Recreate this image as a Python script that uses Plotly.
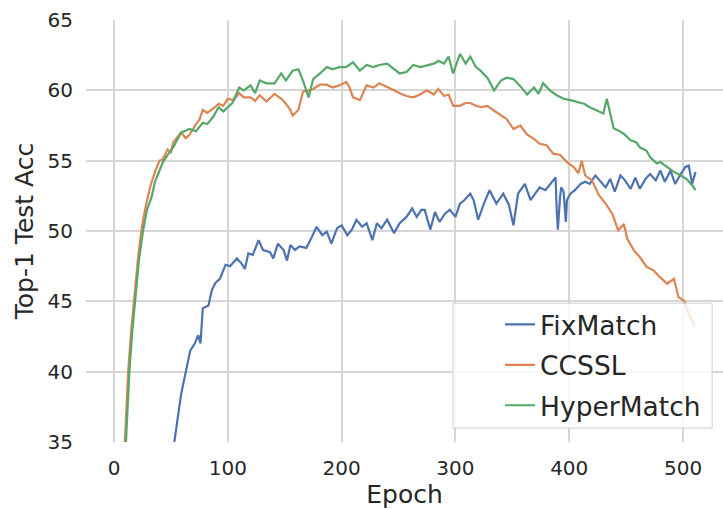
import plotly.graph_objects as go

# FixMatch
fix_epoch = [53, 54, 56, 59, 61, 62, 67, 71, 74, 76, 78, 83, 86, 89, 93, 98, 102, 108, 112, 115, 118, 122, 127, 131,
             137, 140, 144, 149, 152, 155, 159, 163, 169, 174, 178, 183, 187, 191, 196, 200, 205, 209, 213, 218,
             222, 227, 231, 235, 240, 246, 251, 257, 262, 266, 270, 273, 275, 278, 282, 286, 291, 295, 300, 304,
             308, 313, 316, 320, 325, 330, 336, 342, 347, 351, 355, 361, 366, 370, 374, 379, 385, 388, 389, 390,
             392, 393, 395, 397, 398, 401, 405, 410, 414, 418, 423, 427, 432, 436, 440, 445, 449, 454, 458, 462,
             467, 471, 476, 480, 484, 489, 493, 498, 502, 505, 508, 511]
fix_acc = [35.0, 35.6, 36.9, 38.4, 39.2, 39.6, 41.5, 42.0, 42.6, 42.0, 44.5, 44.7, 45.8, 46.3, 46.6, 47.6, 47.5, 48.05,
           47.7, 47.3, 48.4, 48.3, 49.35, 48.65, 48.5, 48.05, 49.1, 48.65, 47.9, 49.0, 48.65, 48.9, 48.8, 49.6, 50.3,
           49.7, 49.95, 49.1, 50.2, 50.4, 49.7, 50.1, 50.8, 50.3, 50.55, 49.35, 50.55, 50.2, 50.8, 49.85, 50.55, 51.0,
           51.6, 51.0, 51.5, 51.5, 50.9, 50.1, 51.35, 50.65, 51.25, 51.5, 51.0, 51.95, 52.2, 52.65, 52.2, 50.8, 51.95,
           52.9, 51.95, 52.65, 51.85, 50.4, 52.65, 53.35, 52.2, 52.65, 53.1, 52.9, 53.5, 53.8, 51.5, 50.1, 52.5, 53.1,
           52.8, 50.65, 52.2, 52.65, 52.9, 53.35, 53.5, 53.35, 53.95, 53.6, 53.1, 53.7, 52.8, 53.95, 53.6, 53.0, 53.8,
           53.0, 53.7, 54.05, 53.6, 54.3, 53.5, 54.3, 53.35, 54.05, 54.55, 54.65, 53.35, 54.2]

# CCSSL
cc_epoch = [9.5, 11, 12.5, 15, 17.5, 21, 24.5, 28, 32, 36, 40, 43, 47, 50, 52, 55, 59, 63, 66, 72, 75, 78, 82, 87,
            92, 96, 100, 105, 110, 114, 120, 124, 128, 134, 141, 147, 151, 155, 157, 162, 166, 171, 175, 181, 187,
            192, 198, 204, 207, 210, 216, 222, 228, 233, 240, 246, 251, 257, 263, 269, 275, 281, 285, 290, 294, 298,
            304, 309, 313, 318, 322, 328, 334, 340, 345, 351, 357, 363, 369, 374, 380, 386, 392, 398, 404, 408, 411,
            414, 420, 426, 432, 438, 443, 448, 451, 457, 462, 468, 474, 480, 486, 492, 496, 501, 505, 510.5]
cc_acc = [35.0, 37.5, 40.0, 42.8, 45.0, 48.0, 50.3, 51.8, 53.2, 54.2, 55.0, 55.1, 55.8, 55.6, 56.3, 56.6, 57.0, 56.6,
          56.8, 57.6, 57.9, 58.6, 58.4, 58.7, 59.05, 58.9, 59.4, 59.3, 59.8, 59.5, 59.5, 59.25, 59.65, 59.2, 59.75,
          59.4, 59.05, 58.6, 58.2, 58.6, 59.9, 60.0, 60.1, 60.4, 60.4, 60.2, 60.35, 60.6, 60.2, 59.5, 59.3, 60.35,
          60.2, 60.5, 60.2, 60.0, 59.8, 59.6, 59.5, 59.7, 60.0, 59.7, 60.1, 59.6, 59.7, 58.9, 58.9, 59.1, 59.1, 58.9,
          58.8, 58.9, 58.55, 58.2, 57.95, 57.25, 57.5, 56.85, 56.55, 56.2, 56.1, 55.5, 55.4, 54.9, 54.55, 54.1, 55.0,
          53.95, 53.6, 52.55, 51.95, 51.2, 50.05, 50.5, 49.45, 48.6, 48.15, 47.45, 47.2, 46.7, 46.25, 46.6, 45.3,
          45.05, 44.1, 43.2]

# HyperMatch
hm_epoch = [10.5, 12, 13.5, 16, 18.5, 22, 25.5, 29, 33, 36, 40, 43, 47, 52, 55, 59, 62, 66, 72, 75, 78, 82, 87, 92,
            96, 100, 104, 110, 114, 120, 124, 128, 134, 141, 147, 151, 157, 162, 166, 171, 175, 181, 187, 192, 198,
            204, 210, 216, 222, 228, 233, 240, 246, 251, 257, 263, 269, 275, 281, 285, 290, 294, 298, 304, 309, 313,
            318, 322, 328, 334, 340, 345, 351, 357, 363, 369, 373, 377, 383, 389, 395, 401, 407, 413, 418, 424, 430,
            433, 436, 439, 443, 448, 454, 459, 462, 468, 471, 477, 480, 486, 492, 498, 503, 508, 511]
hm_acc = [35.0, 37.5, 40.0, 42.8, 45.0, 48.0, 50.0, 51.5, 52.4, 53.5, 54.3, 54.9, 55.4, 55.95, 56.4, 57.0, 57.1,
          57.25, 57.1, 57.4, 57.7, 57.6, 58.1, 58.8, 58.5, 58.8, 59.1, 60.2, 60.0, 60.35, 59.8, 60.7, 60.5, 60.5,
          61.2, 60.7, 61.4, 61.5, 60.7, 59.5, 60.8, 61.2, 61.65, 61.5, 61.65, 61.65, 62.0, 61.4, 61.8, 61.65, 61.8,
          61.9, 61.5, 61.2, 61.3, 61.8, 61.65, 61.8, 61.9, 62.1, 61.9, 62.4, 61.2, 62.6, 61.9, 62.4, 61.65, 61.4,
          60.9, 60.0, 60.7, 60.9, 60.8, 60.3, 59.7, 60.2, 59.75, 60.5, 60.0, 59.65, 59.4, 59.3, 59.2, 59.05, 58.8,
          58.6, 58.35, 59.4, 58.35, 57.3, 57.15, 56.9, 56.45, 56.3, 55.95, 55.7, 55.25, 54.8, 54.9, 54.55, 54.2,
          53.95, 53.7, 53.25, 52.9]

x_ticks = [0, 100, 200, 300, 400, 500]
y_ticks = [35, 40, 45, 50, 55, 60, 65]

FONT = "DejaVu Sans"
TXT = "#262626"

fig = go.Figure()
series = [("FixMatch", fix_epoch, fix_acc, "#4C72B0"),
          ("CCSSL", cc_epoch, cc_acc, "#DD8452"),
          ("HyperMatch", hm_epoch, hm_acc, "#55A868")]
for name, xs, ys, col in series:
    fig.add_trace(go.Scatter(x=xs, y=ys, mode="lines", name=name, legendgroup=name,
                             line=dict(color=col, width=2.2)))

fig.add_shape(type="rect", xref="paper", yref="paper", x0=0.576, x1=0.983, y0=0.033, y1=0.329,
              fillcolor="rgba(255,255,255,0.8)", line=dict(color="#d0d0d0", width=1), layer="above")

fig.update_layout(
    width=723, height=509,
    margin=dict(l=86, r=0, t=20, b=67),
    plot_bgcolor="white", paper_bgcolor="white",
    font=dict(family=FONT, color=TXT),
    showlegend=True,
    legend=dict(x=0.65, y=0.335, xanchor="left", yanchor="top", bgcolor="rgba(0,0,0,0)",
                borderwidth=0, font=dict(size=26.5, color=TXT, family=FONT), tracegroupgap=3),
    xaxis=dict(range=[-24.6, 535.1], tickvals=x_ticks, showgrid=True, gridcolor="#d6d6d6", gridwidth=1.6,
               zeroline=False, showline=False, tickfont=dict(size=20), ticklabelstandoff=12,
               title=dict(text="Epoch", font=dict(size=25), standoff=4)),
    yaxis=dict(range=[35, 65], tickvals=y_ticks, showgrid=True, gridcolor="#d6d6d6", gridwidth=1.6,
               zeroline=False, showline=False, tickfont=dict(size=20), ticklabelstandoff=12,
               title=dict(text="Top-1 Test Acc", font=dict(size=25), standoff=6)),
)

fig.write_html("out.html")
